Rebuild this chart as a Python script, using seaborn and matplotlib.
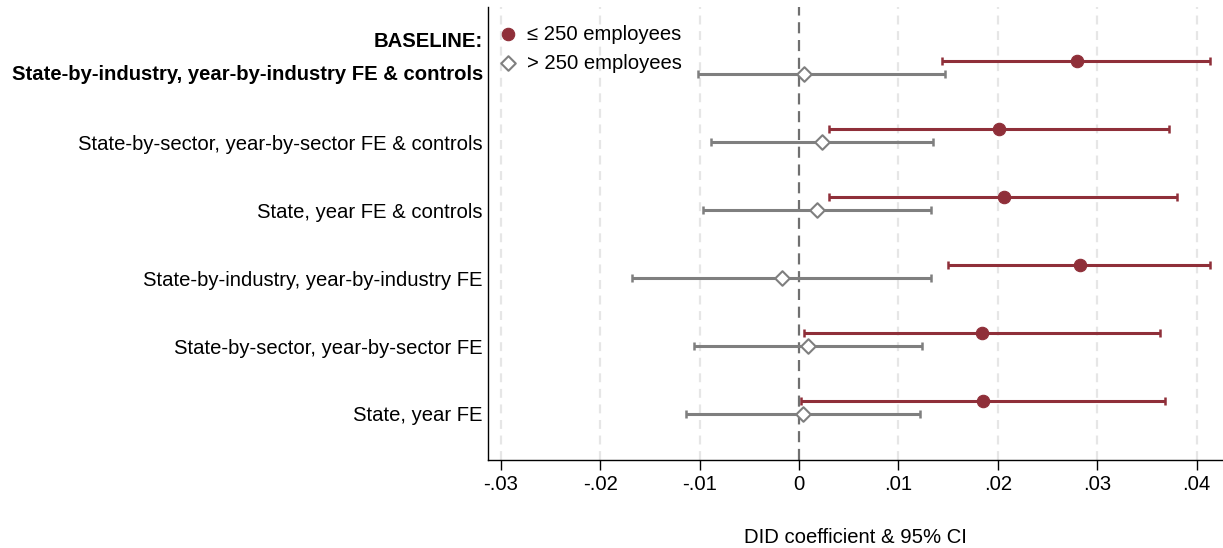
import numpy as np
import pandas as pd
import matplotlib
matplotlib.use("Agg")
import matplotlib.pyplot as plt
import matplotlib.transforms as mtransforms
import seaborn as sns

# Specifications (top to bottom)
specs = [
    "BASELINE:\nState-by-industry, year-by-industry FE & controls",
    "State-by-sector, year-by-sector FE & controls",
    "State, year FE & controls",
    "State-by-industry, year-by-industry FE",
    "State-by-sector, year-by-sector FE",
    "State, year FE",
]

# Small firms (<= 250 employees): DID coefficient and 95% CI
small_coef = [0.0280, 0.0201, 0.0206, 0.0283, 0.0184, 0.0185]
small_lo = [0.0144, 0.0030, 0.0030, 0.0150, 0.0005, 0.0002]
small_hi = [0.0414, 0.0372, 0.0380, 0.0414, 0.0363, 0.0368]

# Large firms (> 250 employees): DID coefficient and 95% CI
large_coef = [0.0005, 0.0023, 0.0018, -0.0017, 0.0009, 0.0004]
large_lo = [-0.0102, -0.0089, -0.0097, -0.0168, -0.0106, -0.0114]
large_hi = [0.0147, 0.0135, 0.0133, 0.0133, 0.0124, 0.0122]

xticks = [-0.03, -0.02, -0.01, 0.0, 0.01, 0.02, 0.03, 0.04]
xtick_labels = ["-.03", "-.02", "-.01", "0", ".01", ".02", ".03", ".04"]

RED = "#8f2f39"
GREY = "#7f7f7f"
FS = 14.6

sns.set_theme(style="white")
plt.rcParams["font.family"] = ["Liberation Sans", "DejaVu Sans"]
plt.rcParams["text.color"] = "black"
plt.rcParams["axes.labelcolor"] = "black"
plt.rcParams["xtick.color"] = "black"
plt.rcParams["ytick.color"] = "black"

rows = np.arange(1, len(specs) + 1)
offset = 0.0956
df_small = pd.DataFrame({"coef": small_coef, "lo": small_lo, "hi": small_hi,
                         "pos": rows - offset})
df_large = pd.DataFrame({"coef": large_coef, "lo": large_lo, "hi": large_hi,
                         "pos": rows + offset})

fig = plt.figure(figsize=(12.23, 5.48), dpi=100)
ax = fig.add_axes([0.3994, 0.1606, 0.6006, 0.8266])

# light dashed vertical grid at each tick
for xt in xticks:
    if xt != 0:
        ax.axvline(xt, color="#e6e6e6", lw=1.6, ls=(0, (4, 3)), zorder=0)
ax.axvline(0, color="#707070", lw=1.6, ls=(0, (5, 3)), zorder=1)

# confidence intervals
for d, col in ((df_small, RED), (df_large, GREY)):
    ax.errorbar(d["coef"], d["pos"],
                xerr=[d["coef"] - d["lo"], d["hi"] - d["coef"]],
                fmt="none", ecolor=col, elinewidth=2.2, capsize=3.0,
                capthick=1.8, zorder=2)

sns.scatterplot(data=df_small, x="coef", y="pos", ax=ax, marker="o", s=80,
                color=RED, edgecolor=RED, linewidth=0.8, zorder=3,
                label="\u2264 250 employees")
sns.scatterplot(data=df_large, x="coef", y="pos", ax=ax, marker="D", s=55,
                facecolor="white", edgecolor=GREY, linewidth=1.5, zorder=3,
                label="> 250 employees")

ax.set_xlim(-0.03124, 0.04266)
ax.set_ylim(6.772, 0.110)
ax.set_xticks(xticks)
ax.set_xticklabels(xtick_labels, fontsize=FS)
# row labels sit level with the lower (> 250) estimate of each pair
ax.set_yticks(rows + offset)
ax.set_yticklabels([""] + specs[1:], fontsize=FS)
ax.tick_params(axis="x", direction="out", length=7, width=1, color="black",
               pad=4, bottom=True)
ax.tick_params(axis="y", length=0, pad=4)

# two-line bold label for the baseline row
trans = mtransforms.blended_transform_factory(ax.transAxes, ax.transData)
ax.text(-0.0075, 0.61, "BASELINE:", transform=trans, ha="right", va="center",
        fontsize=FS, fontweight="bold")
ax.text(-0.0075, 1.096, "State-by-industry, year-by-industry FE & controls",
        transform=trans, ha="right", va="center", fontsize=FS,
        fontweight="bold")

ax.set_xlabel("DID coefficient & 95% CI", fontsize=FS, labelpad=24)
ax.set_ylabel("")

for side in ("top", "right"):
    ax.spines[side].set_visible(False)
for side in ("left", "bottom"):
    ax.spines[side].set_color("black")
    ax.spines[side].set_linewidth(1.0)

leg = ax.legend(loc="upper left", bbox_to_anchor=(-0.004, 0.988), frameon=False,
                fontsize=FS, handlelength=1.0, handletextpad=0.45,
                labelspacing=0.5, borderaxespad=0.2)

fig.savefig("out.png", dpi=100)
